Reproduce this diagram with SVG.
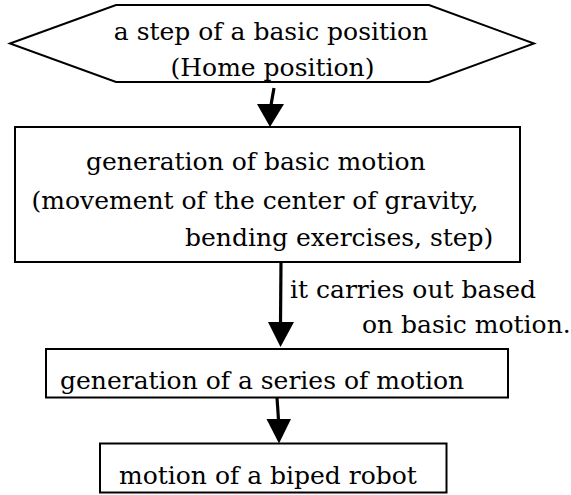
<svg xmlns="http://www.w3.org/2000/svg" width="571" height="495" viewBox="0 0 571 495">
<style>
  .shape { fill: #ffffff; stroke: #000000; stroke-width: 2; }
  .txt { font-family: "DejaVu Serif", "Liberation Serif", serif; font-size: 25px; fill: #000000; }
  .shaft { stroke: #000000; stroke-width: 3.2; fill: none; }
  .head { fill: #000000; stroke: none; }
</style>
<rect x="0" y="0" width="571" height="495" fill="#ffffff"/>
<g id="node-home">
  <polygon class="shape" points="10,43.5 116,5 429,5 534,43.5 429,82 116,82"/>
  <text class="txt" x="271" y="40" text-anchor="middle">a step of a basic position</text>
  <text class="txt" x="272.5" y="75.5" text-anchor="middle">(Home position)</text>
</g>
<g id="node-basic">
  <rect class="shape" x="15" y="127" width="505" height="135"/>
  <text class="txt" x="86" y="170">generation of basic motion</text>
  <text class="txt" x="31.5" y="208.5">(movement of the center of gravity,</text>
  <text class="txt" x="185" y="246">bending exercises, step)</text>
</g>
<g id="node-series">
  <rect class="shape" x="46" y="349" width="462" height="48.5"/>
  <text class="txt" x="60" y="388.5">generation of a series of motion</text>
</g>
<g id="node-robot">
  <rect class="shape" x="100" y="443.5" width="346.5" height="49"/>
  <text class="txt" x="119" y="484">motion of a biped robot</text>
</g>
<g id="connectors">
  <line class="shaft" x1="274" y1="88" x2="271" y2="105"/>
  <polygon class="head" points="257,104 284,104 270,127"/>
  <line class="shaft" x1="281" y1="262" x2="280.5" y2="323"/>
  <polygon class="head" points="268,322 294,322 280.5,347"/>
  <line class="shaft" x1="277" y1="397.5" x2="278.5" y2="420"/>
  <polygon class="head" points="266.5,419 291,419 279,443.5"/>
  <text class="txt" x="290" y="298">it carries out based</text>
  <text class="txt" x="362" y="333">on basic motion.</text>
</g>
</svg>
